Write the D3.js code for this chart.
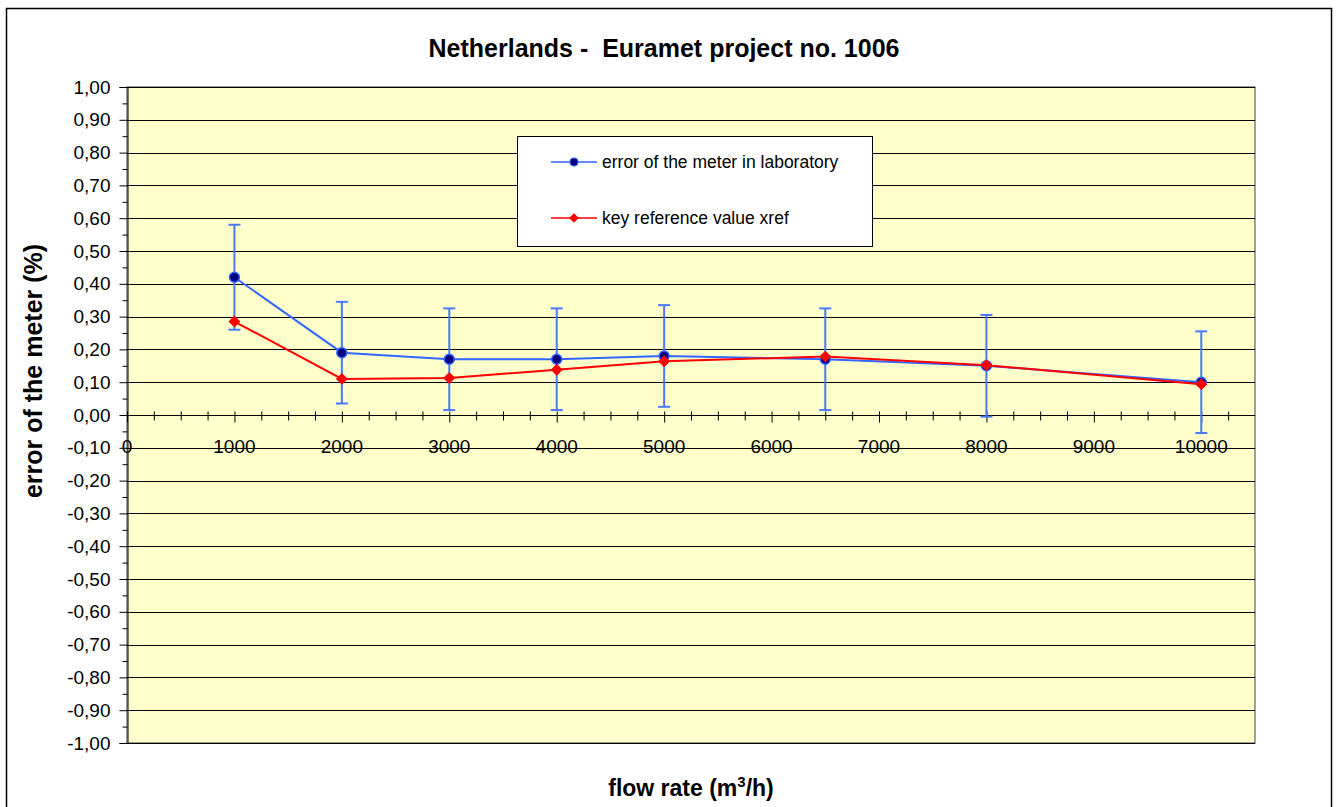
<!DOCTYPE html>
<html>
<head>
<meta charset="utf-8">
<script src="https://cdn.jsdelivr.net/npm/d3@7"></script>
<style>
  body { margin: 0; background: #fff; }
  svg { display: block; font-family: "Liberation Sans", Arial, sans-serif; }
</style>
</head>
<body>
<svg width="1337" height="807"></svg>
<script>
// values
var flowRates = [1000, 2000, 3000, 4000, 5000, 6500, 8000, 10000];
var labError = [0.42, 0.19, 0.17, 0.17, 0.18, 0.17, 0.15, 0.10];
var labUncertainty = [0.16, 0.155, 0.155, 0.155, 0.155, 0.155, 0.155, 0.155];
var xrefValues = [0.285, 0.11, 0.113, 0.138, 0.164, 0.178, 0.152, 0.094];
var xTickValues = [0, 1000, 2000, 3000, 4000, 5000, 6000, 7000, 8000, 9000, 10000];
var yTickValues = d3.range(-10, 11).map(function(d) { return d / 10; });
var seriesNames = ["error of the meter in laboratory", "key reference value xref"];

var svg = d3.select("svg");

var plot = { left: 127, top: 87, right: 1255, bottom: 743 };

var x = d3.scaleLinear().domain([0, 10500]).range([plot.left, plot.right]);
var y = d3.scaleLinear().domain([-1, 1]).range([plot.bottom, plot.top]);

var loc = d3.formatLocale({ decimal: ",", thousands: ".", grouping: [3], currency: ["", ""], minus: "-" });
var fmtY = loc.format(".2f");

// outer chart frame
svg.append("rect")
  .attr("x", 6.5).attr("y", 8.5)
  .attr("width", 1325).attr("height", 810)
  .attr("fill", "#fff")
  .attr("stroke", "#000")
  .attr("stroke-width", 1.5);

// plot area
svg.append("rect")
  .attr("x", plot.left).attr("y", plot.top)
  .attr("width", plot.right - plot.left)
  .attr("height", plot.bottom - plot.top)
  .attr("fill", "#ffffcc")
  .attr("stroke", "#808080")
  .attr("stroke-width", 1.5);

// horizontal gridlines
svg.append("g")
  .selectAll("line")
  .data(yTickValues)
  .enter()
  .append("line")
  .attr("x1", plot.left).attr("x2", plot.right)
  .attr("y1", function(d) { return Math.round(y(d)) + 0.5; })
  .attr("y2", function(d) { return Math.round(y(d)) + 0.5; })
  .style("stroke", "#000")
  .style("stroke-width", 1);

// y axis
var yAxis = svg.append("g")
  .attr("transform", "translate(" + (plot.left + 0.5) + ",0)")
  .call(d3.axisLeft(y).tickValues(yTickValues).tickFormat(fmtY).tickSize(8).tickPadding(9));
yAxis.select(".domain").attr("stroke", "#000");
yAxis.selectAll("text").style("font-size", "19px").attr("fill", "#000");

var yMinor = svg.append("g")
  .attr("transform", "translate(" + (plot.left + 0.5) + ",0)")
  .call(d3.axisLeft(y).tickValues(d3.range(-19, 20, 2).map(function(d) { return d / 20; })).tickSize(5).tickFormat(""));
yMinor.select(".domain").remove();

// x axis crossing at zero
var xAxis = svg.append("g")
  .attr("transform", "translate(0," + (Math.round(y(0)) + 0.5) + ")")
  .call(d3.axisBottom(x).tickValues(xTickValues).tickSize(7).tickFormat(""));
xAxis.select(".domain").attr("d", "M" + plot.left + ",0H" + plot.right);
xAxis.selectAll(".tick line").attr("y1", -4);

var xMinor = svg.append("g")
  .attr("transform", "translate(0," + (Math.round(y(0)) + 0.5) + ")")
  .call(d3.axisBottom(x).tickValues(d3.range(250, 10500, 250).filter(function(d) { return d % 1000 !== 0; })).tickSize(5).tickFormat(""));
xMinor.select(".domain").remove();
xMinor.selectAll(".tick line").attr("y1", -4);

svg.append("g")
  .selectAll("text")
  .data(xTickValues)
  .enter()
  .append("text")
  .attr("x", function(d) { return x(d); })
  .attr("y", y(0) + 38)
  .attr("text-anchor", "middle")
  .style("font-size", "19px")
  .text(function(d) { return d; });

// error bars
var eb = svg.append("g").style("stroke", "#4a78ff").style("stroke-width", 2);
flowRates.forEach(function(f, i) {
  var top = y(labError[i] + labUncertainty[i]);
  var bot = y(labError[i] - labUncertainty[i]);
  eb.append("line").attr("x1", x(f)).attr("x2", x(f)).attr("y1", top).attr("y2", bot);
  eb.append("line").attr("x1", x(f) - 6).attr("x2", x(f) + 6).attr("y1", top).attr("y2", top);
  eb.append("line").attr("x1", x(f) - 6).attr("x2", x(f) + 6).attr("y1", bot).attr("y2", bot);
});

var line = d3.line()
  .x(function(d) { return x(d[0]); })
  .y(function(d) { return y(d[1]); });

var labPts = flowRates.map(function(f, i) { return [f, labError[i]]; });
var refPts = flowRates.map(function(f, i) { return [f, xrefValues[i]]; });

svg.append("path")
  .datum(labPts)
  .attr("d", line)
  .attr("fill", "none")
  .style("stroke", "#3366ff")
  .style("stroke-width", 2);

svg.append("g")
  .selectAll("circle")
  .data(labPts)
  .enter()
  .append("circle")
  .attr("cx", function(d) { return x(d[0]); })
  .attr("cy", function(d) { return y(d[1]); })
  .attr("r", 5)
  .style("fill", "#000080")
  .style("stroke", "#3366ff")
  .style("stroke-width", 1.5);

svg.append("path")
  .datum(refPts)
  .attr("d", line)
  .attr("fill", "none")
  .style("stroke", "#ff0000")
  .style("stroke-width", 2);

var diamond = d3.symbol().type(d3.symbolDiamond2).size(90);
svg.append("g")
  .selectAll("path")
  .data(refPts)
  .enter()
  .append("path")
  .attr("d", diamond)
  .attr("transform", function(d) { return "translate(" + x(d[0]) + "," + y(d[1]) + ")"; })
  .style("fill", "#ff0000");

// legend
var lg = svg.append("g").attr("transform", "translate(517,136)");
lg.append("rect")
  .attr("x", 0.5).attr("y", 0.5)
  .attr("width", 355).attr("height", 110)
  .attr("fill", "#fff")
  .attr("stroke", "#000")
  .attr("stroke-width", 1);

var entries = [
  { name: seriesNames[0], color: "#3366ff", mark: "circle" },
  { name: seriesNames[1], color: "#ff0000", mark: "diamond" }
];
entries.forEach(function(e, i) {
  var ly = 26 + i * 56;
  lg.append("line").attr("x1", 34).attr("x2", 80).attr("y1", ly).attr("y2", ly)
    .style("stroke", e.color).style("stroke-width", 1.5);
  if (e.mark === "circle") {
    lg.append("circle").attr("cx", 57).attr("cy", ly).attr("r", 4)
      .style("fill", "#000080").style("stroke", e.color).style("stroke-width", 1.2);
  } else {
    lg.append("path").attr("d", d3.symbol().type(d3.symbolDiamond2).size(60))
      .attr("transform", "translate(57," + ly + ")").style("fill", e.color);
  }
  lg.append("text")
    .attr("x", 85).attr("y", ly + 6)
    .style("font-size", "17.5px")
    .text(e.name);
});

// titles
svg.append("text")
  .attr("x", 664).attr("y", 57)
  .attr("text-anchor", "middle")
  .style("font-size", "25px")
  .style("font-weight", "bold")
  .style("white-space", "pre")
  .text("Netherlands -  Euramet project no. 1006");

var xt = svg.append("text")
  .attr("x", 691).attr("y", 796)
  .attr("text-anchor", "middle")
  .style("font-size", "23px")
  .style("font-weight", "bold");
xt.append("tspan").text("flow rate (m");
xt.append("tspan").attr("dy", -9).style("font-size", "15px").text("3");
xt.append("tspan").attr("dy", 9).text("/h)");

svg.append("text")
  .attr("transform", "translate(42,371) rotate(-90)")
  .attr("text-anchor", "middle")
  .style("font-size", "25px")
  .style("font-weight", "bold")
  .text("error of the meter (%)");
</script>
</body>
</html>
